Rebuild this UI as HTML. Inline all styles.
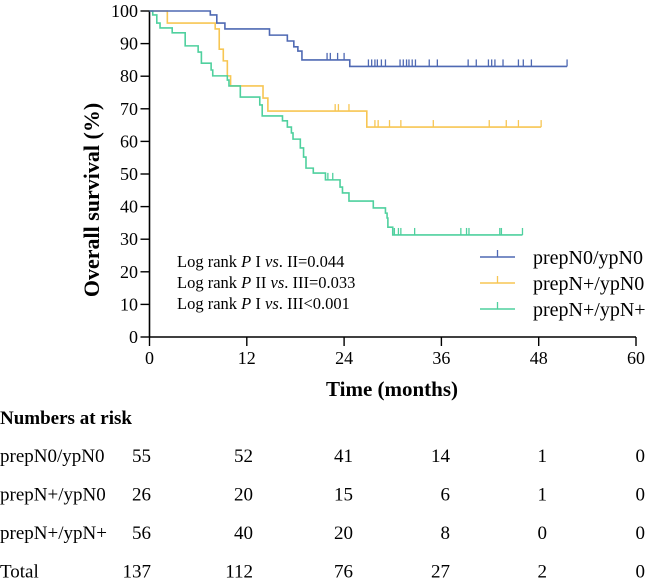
<!DOCTYPE html>
<html><head><meta charset="utf-8"><style>
html,body{margin:0;padding:0;background:#fff;}
svg, svg text{font-family:"Liberation Serif","Times New Roman",serif;}
</style></head><body>
<svg id="chart" width="646" height="583" xmlns="http://www.w3.org/2000/svg" font-family="Liberation Serif, serif">
<g id="axes"></g>
<g id="series"></g>
<text x="0" y="0" transform="translate(99,200) rotate(-90)" text-anchor="middle" font-size="22" font-weight="bold">Overall survival (%)</text>
<text x="392" y="396" text-anchor="middle" font-size="21" font-weight="bold">Time (months)</text>
<g font-size="16.5">
<text x="177" y="267">Log rank <tspan font-style="italic">P</tspan> I <tspan font-style="italic">vs</tspan>. II=0.044</text>
<text x="177" y="288">Log rank <tspan font-style="italic">P</tspan> II <tspan font-style="italic">vs</tspan>. III=0.033</text>
<text x="177" y="309">Log rank <tspan font-style="italic">P</tspan> I <tspan font-style="italic">vs</tspan>. III&lt;0.001</text>
</g>
<g id="legend"></g>
<text x="0" y="424" font-size="19" font-weight="bold">Numbers at risk</text>
<g id="risk" font-size="19"></g>
</svg>
<script>
const xTicks=[0,12,24,36,48,60];
const yTicks=[0,10,20,30,40,50,60,70,80,90,100];
const groupNames=["prepN0/ypN0","prepN+/ypN0","prepN+/ypN+"];
const colors=["#4f69b3","#f7c653","#4fd09e"];
// step times and survival after step
const blueT=[7.5,8.3,9.3,14.8,17.0,17.8,18.3,18.8,24.7];
const blueS=[98.8,96.3,94.5,92.6,90.8,89.0,87.7,85.0,83.0];
const blueEnd=51.5;
const blueCens=[21.9,22.3,23.2,24.0,27,27.4,27.8,28.1,28.6,29.1,30.9,31.3,31.7,32.0,32.4,32.8,34.5,35.5,39.3,40.3,41.8,42.2,42.6,43.6,45.5,46.1,47.1,51.5];
const yellowT=[2.2,8.1,8.6,9.1,9.6,10.0,14.0,14.6,26.8];
const yellowS=[96.3,94.5,88.3,84.7,80.1,77.0,73.3,69.3,64.4];
const yellowEnd=48.3;
const yellowCens=[22.9,23.3,24.6,27.8,28.2,29.6,31.0,35.0,41.9,44.0,45.5,48.3];
const greenT=[0.4,0.9,1.3,2.8,4.4,6.0,6.4,7.6,7.8,9.6,9.8,11.2,13.6,13.9,16.4,17.0,17.5,17.7,18.6,19.0,19.3,20.2,21.7,23.5,23.8,24.6,27.6,29.1,29.3,29.4,30.0];
const greenS=[98.8,96.3,94.8,93.3,89.3,87.4,84.0,81.9,80.1,78.8,77.0,73.6,71.2,67.8,66.3,64.4,62.6,60.7,58.0,55.2,51.8,50.3,48.2,46.0,44.2,41.7,39.6,38.0,36.5,33.7,31.3];
const greenEnd=46.0;
const greenCens=[22.0,22.6,30.2,30.7,31.0,32.7,38.4,39.1,39.4,43.2,43.4,46.0];
const riskRows=["prepN0/ypN0","prepN+/ypN0","prepN+/ypN+","Total"];
const risk0=[55,52,41,14,1,0];
const risk1=[26,20,15,6,1,0];
const risk2=[56,40,20,8,0,0];
const riskTotal=[137,112,76,27,2,0];

const NS="http://www.w3.org/2000/svg";
const X0=149.5,X1=636,Y0=337,Y1=11;
const xs=t=>X0+(t/60)*(X1-X0);
const ys=v=>Y0-(v/100)*(Y0-Y1);
function mk(tag,attrs,parent){const e=document.createElementNS(NS,tag);for(const k in attrs)e.setAttribute(k,attrs[k]);parent.appendChild(e);return e;}
const axes=document.getElementById('axes');
let e=mk('line',{x1:X0,y1:Y1,x2:X0,y2:Y0,stroke:'#000','stroke-width':1.6},axes);


e=mk('line',{x1:X0,y1:Y0,x2:X1,y2:Y0,stroke:'#000','stroke-width':1.6},axes);


yTicks.forEach(v=>{
 const t=mk('line',{x1:X0-9,y1:ys(v),x2:X0,y2:ys(v),stroke:'#000','stroke-width':1.4},axes);
 
 
 const l=mk('text',{x:138,y:ys(v)+6,'text-anchor':'end','font-size':18},axes);l.textContent=v;
 
 
});
xTicks.forEach(v=>{
 const t=mk('line',{x1:xs(v),y1:Y0,x2:xs(v),y2:Y0+9,stroke:'#000','stroke-width':1.4},axes);
 
 
 const l=mk('text',{x:xs(v),y:364,'text-anchor':'middle','font-size':18},axes);l.textContent=v;
 
 
});
const series=document.getElementById('series');
function curve(T,S,end,cens,color,name){
 let d=`M${xs(0)},${ys(100)}`;
 T.forEach((t,i)=>{d+=`H${xs(t)}V${ys(S[i])}`;});
 d+=`H${xs(end)}`;
 const p=mk('path',{d:d,fill:'none',stroke:color,'stroke-width':1.6},series);
 
 
 cens.forEach(c=>{
  let s=100;T.forEach((t,i)=>{if(t<=c)s=S[i];});
  const m=mk('line',{x1:xs(c),y1:ys(s),x2:xs(c),y2:ys(s)-7,stroke:color,'stroke-width':1.3},series);
  
  
 });
}
curve(yellowT,yellowS,yellowEnd,yellowCens,colors[1],'prepN-plus-ypN0');
curve(greenT,greenS,greenEnd,greenCens,colors[2],'prepN-plus-ypN-plus');
curve(blueT,blueS,blueEnd,blueCens,colors[0],'prepN0-ypN0');
const legend=document.getElementById('legend');
groupNames.forEach((n,i)=>{
 const y=257+i*26;
 const g=mk('g',{},legend);
 
 
 mk('line',{x1:480,y1:y,x2:515,y2:y,stroke:colors[i],'stroke-width':1.6},g);
 mk('line',{x1:497.5,y1:y,x2:497.5,y2:y-7,stroke:colors[i],'stroke-width':1.3},g);
 const t=mk('text',{x:533,y:y+7,'font-size':20},g);t.textContent=n;
});
const risk=document.getElementById('risk');
const riskData=[risk0,risk1,risk2,riskTotal];
const colRight=[151,253,353,450,547,645];
riskRows.forEach((r,i)=>{
 const y=462+i*38.5;
 const l=mk('text',{x:0,y:y},risk);l.textContent=r;
 
 
 riskData[i].forEach((v,j)=>{
  const c=mk('text',{x:colRight[j],y:y,'text-anchor':'end'},risk);c.textContent=v;
  
  
 });
});
</script>
</body></html>
